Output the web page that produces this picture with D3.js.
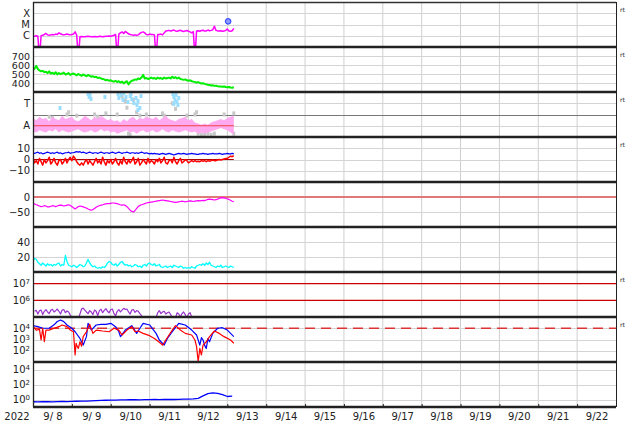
<!DOCTYPE html>
<html><head><meta charset="utf-8">
<script src="https://cdn.jsdelivr.net/npm/d3@7"></script>
<style>
body{margin:0;background:#fff}
svg{display:block}
text{font-family:"DejaVu Sans",sans-serif;fill:#222}
</style>
</head><body>
<svg id="c" width="634" height="424"></svg>
<script>
// ---------------- DATA ----------------
const startDate = Date.UTC(2022, 8, 8);   // 2022-09-08 00:00 UT
const endDate = Date.UTC(2022, 8, 23);
const yearLabel = "2022";
const dayLabels = ["9/ 8","9/ 9","9/10","9/11","9/12","9/13","9/14","9/15","9/16","9/17","9/18","9/19","9/20","9/21","9/22"];

// Panel 1: X-ray flux, hourly from hour 0, units 1e-6 W/m2
const xrayFlux = [0.9,0.9,1.0,0.9,0.01,1.0,1.1,1.3,1.6,1.2,1.1,
  1.2,1.3,1.2,1.4,1.3,1.8,1.5,1.3,1.2,1.3,1.4,1.3,1.2,1.3,
  1.4,2.2,1.1,0.01,
  0.8,0.85,0.8,0.8,0.85,0.9,0.85,0.8,0.8,0.85,0.8,0.8,0.9,0.85,0.8,0.85,0.9,0.9,0.95,0.9,1.0,1.1,1.3,
  0.01,
  1.4,1.8,2.2,1.6,2.4,1.9,1.5,1.3,1.2,1.1,1.2,
  1.1,1.2,1.6,2.0,2.2,1.8,1.3,1.2,1.4,1.3,1.3,1.2,
  0.01,
  1.3,1.3,1.4,1.2,1.8,2.6,
  2.8,3.0,2.6,2.9,3.2,2.7,2.5,2.8,3.1,2.6,2.4,2.7,2.9,2.5,2.2,1.8,2.3,
  0.01,
  2.6,2.8,2.5,2.9,3.1,2.6,2.7,3.2,2.8,3.0,3.4,7.0,3.0,2.7,2.6,2.8,2.5,2.6,3.0,4.0,2.7,2.5,2.8,4.5];
const flareHours = [120.5];
const flareFlux = [19];
const xrayLabels = ["C","M","X"];

// Panel 2: solar wind speed (km/s), hourly
const windSpeed = [545,560,590,555,540,530,535,520,525,510,530,
  505,515,500,520,495,510,500,505,515,495,500,510,490,
  500,505,495,485,500,490,480,495,485,475,490,480,470,
  475,465,470,455,460,450,445,440,430,435,425,430,420,
  415,425,410,420,405,415,395,410,420,385,410,425,430,
  440,435,450,445,460,490,450,455,445,450,460,450,455,
  445,460,450,455,445,460,450,455,460,450,470,455,465,
  450,460,445,440,435,440,430,425,430,420,415,410,405,
  410,400,395,398,390,385,380,378,372,375,368,370,365,
  362,360,358,362,355,352,355,350,348,352];
const speedTicks = [400,500,600,700];

// Panel 3: T / A levels (T = 3, A = 1)
const taLabels = ["A","T"];
const aHigh = [1.7,1.5,1.8,1.6,1.7,1.4,1.8,1.6,1.5,1.9,1.6,1.7,
  1.8,1.5,1.4,1.6,1.9,1.7,1.5,1.8,1.6,1.9,1.7,1.5,
  1.6,1.4,1.5,1.3,1.6,1.4,1.7,1.8,1.5,1.7,1.6,1.8,
  1.7,1.6,1.8,1.5,1.7,1.9,1.6,1.5,1.4,1.6,1.7,1.8,
  1.5,1.6,1.3,1.2,1.1,1.2,1.1,1.3,1.4,1.5,1.6,1.5,
  1.7,1.8,1.9];
const aLow = [0.5,0.4,0.6,0.5,0.4,0.6,0.5,0.7,0.4,0.6,0.5,0.4,
  0.5,0.6,0.7,0.5,0.4,0.5,0.6,0.4,0.5,0.7,0.5,0.6,
  0.4,0.5,0.3,0.4,0.5,0.6,0.4,0.5,0.3,0.5,0.6,0.4,
  0.5,0.6,0.4,0.5,0.7,0.5,0.4,0.6,0.5,0.4,0.5,0.6,
  0.5,0.4,0.5,0.3,0.4,0.3,0.4,0.5,0.6,0.7,0.8,0.7,
  0.6,0.4,0.2];
const tHours = [16.7,34,34.6,35.2,35.8,44.4,52.5,53,54.3,55.6,56,57.4,58.6,60,60.5,61,62.3,63.6,64.2,64.8,66,66.7,64.8,86.4,87,87.7,88.3,88.9,89.5,90,87];
const tLevels = [2.58,3.82,3.56,3.73,3.38,3.56,3.82,3.47,3.73,3.29,3.91,3.56,3.11,3.64,3.82,3.38,3.02,3.47,2.84,3.2,2.58,3.64,2.4,3.82,3.56,3.29,3.73,3.11,2.84,3.47,2.93];
const grayHours = [10,12,21,22,27,38,40,45,52,55,57,58,59,60,62,64,66,70,80,81,86,88,95,100,101,102,104,106,108,110,112,118,124,124];
const grayLevels = [1.8,1.7,2.0,2.2,1.9,2.0,1.8,2.1,2.0,3.6,3.2,2.6,0.3,0.2,3.3,2.2,1.9,2.0,2.1,1.9,3.0,2.5,1.9,2.0,2.2,0.3,0.2,0.25,0.3,0.2,0.3,2.0,0.3,2.1];

// Panel 4: IMF (nT), hourly
const imfBt = [6,5.5,6,6.5,5.5,6,5,5.5,6,6.5,6,5.5,6,5.5,6,6.5,5.5,6,5,5.5,6,6,6.5,5.5,6,
  6,6.5,7,6.5,7,6,6.5,6,5.5,6,6.5,6,5.5,6,6,5.5,6,6.5,6,5.5,6,6,5.5,6,6.5,
  6,5.5,6,6.5,6,5.5,6,6,6.5,6,5.5,6,6,5.5,6,5.5,6,6.5,6,5.5,6,5.5,5,5.5,5,
  5.5,5,5,4.5,5,5.5,5,4.5,5,5.5,5,4.5,4,4.5,5,5.5,5,5,5.5,5,4.5,5,5,5.5,5,
  5,4.5,4.5,5,5,5.5,5,5,4.5,5,5,5.5,5,5,5,5.5,5,4.5,5,5,5.5,5,5,5.5,5];
const imfBz = [2,-3,-1,-4,1,-2,-5,0,-3,-1,2,-4,-2,1,-3,-5,-1,0,-4,-2,1,-3,0,2,-1,
  3,1,-2,-4,-5,-3,-5,-2,0,-4,-1,-3,-5,-2,1,-3,-1,-4,2,-2,-5,-1,-3,0,-4,
  -2,1,-3,-5,-1,-4,2,-2,-4,0,-3,-1,2,-4,-2,1,-5,-3,0,-2,-4,1,-3,-1,-2,
  -4,0,-2,1,-3,-1,2,-3,-4,-1,0,-3,2,-2,-4,-1,1,-3,-2,0,-1,-3,-2,-1,-2,
  -1,-2,-1.5,-2,-1,-1.5,-1,-2,-1,-1.5,-1,-0.5,-1,-1,-0.5,0,-0.5,0,0.5,1,1,2,3,2.5,3.5];
const imfTicks = [-10,0,10];

// Panel 5: Dst (nT), hourly
const dst = [-21,-23,-26,-28,-30,-32,-31,-29,-30,-33,-33,-31,
  -29,-30,-32,-30,-28,-27,-28,-30,-29,-27,-26,-28,
  -32,-36,-40,-36,-32,-30,-31,-33,-35,-37,-40,-42,
  -44,-42,-38,-34,-31,-29,-27,-26,-24,-23,-22,-22,
  -21,-20,-20,-21,-22,-24,-26,-27,-26,-28,-32,-38,
  -44,-48,-50,-45,-38,-32,-28,-26,-24,-22,-20,-19,
  -18,-17,-16,-15,-14,-13,-12,-11,-10,-11,-12,-13,
  -14,-15,-16,-17,-18,-17,-16,-15,-14,-15,-16,-15,
  -14,-13,-14,-15,-14,-13,-12,-13,-12,-11,-12,-10,
  -8,-7,-8,-9,-10,-9,-7,-5,-3,-2,-3,-5,
  -6,-8,-11,-14,-16];
const dstTicks = [-50,0];

// Panel 6: density, hourly
const density = [15,18,17,13,11,9,12,10,8,11,9,10,
  8,10,9,11,12,8,10,9,22,14,9,8,
  7,9,8,6,8,10,9,7,8,12,17,12,
  9,7,8,6,5,6,5,7,6,8,12,14,
  13,10,9,11,8,10,13,14,11,9,10,8,
  9,7,8,10,9,7,8,6,9,10,8,11,
  12,10,9,11,8,9,10,7,6,7,8,6,
  7,8,6,9,8,7,6,8,7,5,6,5,
  6,5,7,6,5,8,9,10,9,11,9,12,
  10,13,9,8,7,6,8,7,9,6,7,8,
  7,6,8,7,6];
const densityTicks = [20,40];

// Panel 7: electron flux, hourly from hour 1, units 1e5
const electronFlux = [2.2,2.5,1.5,2.4,2.6,1.4,2.2,2.8,2.0,1.6,
  2.5,2.9,2.0,2.4,3.0,2.2,1.5,2.6,2.8,1.8,
  2.3,2.0,1.3,0.8,0.6,0.5,0.6,0.8,1.5,3.0,
  3.4,2.6,2.0,1.6,2.4,2.0,1.4,2.6,2.2,1.2,
  2.4,2.9,1.8,2.5,3.2,2.2,1.8,2.8,3.0,1.6,
  1.2,2.2,2.8,2.0,2.6,3.3,2.8,3.0,2.0,1.5,
  2.6,2.8,1.9,2.4,2.2,1.6,1.2,0.8,0.6,0.5,
  0.5,0.5,0.5,0.5,0.6,0.9,1.8,2.4,1.6,2.0,
  2.2,1.5,1.8,2.0,1.4,1.0,0.7,0.9,1.8,1.5,
  1.0,1.6,2.0,1.4,0.9,1.5,1.8,1.0,0.7,0.5,
  0.5,0.5,0.5,0.5,0.5,0.5,0.5,0.5,0.5,0.5,
  0.5,0.5,0.5,0.5,0.5,0.5,0.5,0.5,0.5,0.5,0.5,0.5,0.5,0.5];
const electronRefs = [1e6, 1e7];

// Panel 8: two fluxes, irregular hours
const blueHours = [0,3,6,10,13,15,17,19,21,24,26,29,31,33,34,36,39,42,45,48,51,53,54,57,61,64,66,68,72,76,78,81,83,86,90,94,98,101,103,104,105,106,107,108,109,111,114,117,120,124];
const blueFlux = [17000,14000,10000,10000,20000,40000,54000,39000,19500,10000,4900,1250,320,1800,27500,6900,19500,22500,22500,27500,13800,4900,1800,6900,17000,3500,10000,27500,19500,3500,900,320,1250,4900,27500,19500,6900,2500,320,1500,900,300,160,1200,630,3500,10000,11200,6900,1800];
const redHours = [0,2,4,5,6,7,8,10,13,16,18,21,23,25,26,26.6,27,28,29,30,31,33,35,37,39,43,47,50,53,55,58,61,63,65,68,72,75,78,80,82,84,86,88,91,94,98,100,101,102,103,104,105,107,109,112,115,118,122,124];
const redFlux = [13800,6900,8000,900,10000,630,6900,6900,10000,13800,19500,13800,6900,4900,42,460,300,160,630,250,1800,4900,22500,3500,6900,5700,4900,10000,6900,2500,6900,13800,4900,5700,3500,2200,1250,560,320,900,2500,6900,17000,6900,3500,2500,900,230,11,160,42,320,630,1800,5700,3500,1800,900,460];
const fluxThreshold = 1e4;
const fluxTicks = [1e2,1e3,1e4];

// Panel 9: flux every 3 hours from hour 0
const lowFlux = [0.50,0.48,0.52,0.50,0.49,0.53,0.55,0.52,0.56,0.58,
  0.60,0.62,0.65,0.70,0.75,0.80,0.85,0.82,0.88,0.90,
  0.92,0.95,0.90,0.94,0.98,1.0,0.95,1.0,1.05,1.0,
  1.05,1.1,1.1,1.2,1.4,3.0,6.0,7.5,6.5,4.5,2.5,2.8];
const lowFluxTicks = [1e0,1e2,1e4];

const rtPanels = [0,1,2,3,6,7];

// ---------------- LAYOUT ----------------
const svg = d3.select("#c");
const L = 33, R = 616, TOP = 2, PH = 45;
const pTop = i => TOP + i * PH;
const pBot = i => TOP + (i + 1) * PH;
const hd = h => new Date(startDate + h * 3600000);

const x = d3.scaleUtc().domain([new Date(startDate), new Date(endDate)]).range([L, R]);

const ys = [
  d3.scaleLog().domain([1e-7, 1e-3]).range([pBot(0), pTop(0)]),
  d3.scaleLinear().domain([300, 800]).range([pBot(1), pTop(1)]),
  d3.scaleLinear().domain([0, 4]).range([pBot(2), pTop(2)]),
  d3.scaleLinear().domain([-20, 20]).range([pBot(3), pTop(3)]),
  d3.scaleLinear().domain([-100, 50]).range([pBot(4), pTop(4)]),
  d3.scaleLinear().domain([0, 60]).range([pBot(5), pTop(5)]),
  d3.scaleLog().domain([1e5, 5e7]).range([pBot(6), pTop(6)]),
  d3.scaleLog().domain([10, 1e5]).range([pBot(7), pTop(7)]),
  d3.scaleLog().domain([0.1, 1e5]).range([pBot(8), pTop(8)])
];

svg.append("rect").attr("width", 634).attr("height", 424).attr("fill", "#fff");

const defs = svg.append("defs");
ys.forEach((s, i) => {
  defs.append("clipPath").attr("id", "clip" + i)
    .append("rect").attr("x", L).attr("y", pTop(i)).attr("width", R - L).attr("height", PH);
});

// vertical day gridlines
const dayBounds = d3.range(1, 15).map(d => new Date(startDate + d * 86400000));
svg.append("g").selectAll("line").data(dayBounds).join("line")
  .attr("x1", d => x(d)).attr("x2", d => x(d))
  .attr("y1", TOP).attr("y2", pBot(8))
  .attr("stroke", "#cfcfcf").attr("stroke-width", 1);

// horizontal gridlines
function hgrid(i, vals, color = "#d4d4d4") {
  svg.append("g").selectAll("line").data(vals).join("line")
    .attr("x1", L).attr("x2", R)
    .attr("y1", d => Math.round(ys[i](d)) + 0.5).attr("y2", d => Math.round(ys[i](d)) + 0.5)
    .attr("stroke", color).attr("stroke-width", 1);
}
hgrid(0, [1e-6, 1e-5, 1e-4]);
hgrid(1, speedTicks);
hgrid(2, [3, 1]);
hgrid(2, [2], "#777");
hgrid(3, imfTicks);
hgrid(4, [-50]);
hgrid(5, densityTicks);
hgrid(7, fluxTicks);
hgrid(8, lowFluxTicks);

// helpers
const hourly = (arr, start = 0, step = 1) => arr.map((v, i) => ({ t: hd(start + i * step), v }));
const paired = (hs, vs) => hs.map((h, i) => ({ t: hd(h), v: vs[i] }));
function drawLine(i, data, color, width) {
  const line = d3.line().x(d => x(d.t)).y(d => ys[i](d.v));
  svg.append("path").datum(data)
    .attr("clip-path", `url(#clip${i})`)
    .attr("d", line).attr("fill", "none")
    .attr("stroke", color).attr("stroke-width", width)
    .attr("stroke-linejoin", "round");
}

// Panel 1
drawLine(0, hourly(xrayFlux.map(v => v * 1e-6)), "#ff00ff", 1.5);
const flares = paired(flareHours, flareFlux.map(v => v * 1e-6));
svg.append("g").selectAll("circle").data(flares).join("circle")
  .attr("cx", d => x(d.t)).attr("cy", d => ys[0](d.v)).attr("r", 2.8)
  .attr("fill", "#8899ff").attr("stroke", "#2233ff").attr("stroke-width", 1);

// Panel 2
drawLine(1, hourly(windSpeed), "#00ee00", 2);

// Panel 3
const g3 = svg.append("g").attr("clip-path", "url(#clip2)");
g3.selectAll("rect.gray").data(paired(grayHours, grayLevels)).join("rect")
  .attr("x", d => x(d.t) - 1.5).attr("y", d => ys[2](d.v) - 2).attr("width", 3).attr("height", 4)
  .attr("fill", "#c8c8c8");
const aBand = aHigh.map((v, i) => ({ t: hd(i * 2), hi: v, lo: aLow[i] }));
g3.append("path").datum(aBand)
  .attr("d", d3.area().x(d => x(d.t)).y0(d => ys[2](d.lo)).y1(d => ys[2](d.hi)))
  .attr("fill", "#ffaaf0");
g3.selectAll("rect.tb").data(paired(tHours, tLevels)).join("rect")
  .attr("x", d => x(d.t) - 1.5).attr("y", d => ys[2](d.v) - 2).attr("width", 3).attr("height", 4)
  .attr("fill", "#99ddff");
g3.append("line")
  .attr("x1", x(hd(0))).attr("x2", x(hd(124)))
  .attr("y1", ys[2](1)).attr("y2", ys[2](1))
  .attr("stroke", "#ee4444").attr("stroke-width", 1.2);

// Panel 4
svg.append("line").attr("x1", x(hd(0))).attr("x2", x(hd(124)))
  .attr("y1", ys[3](0)).attr("y2", ys[3](0)).attr("stroke", "#aa0000").attr("stroke-width", 1.2);
drawLine(3, hourly(imfBt), "#0000ff", 1.2);
drawLine(3, hourly(imfBz), "#ff0000", 1.5);

// Panel 5
svg.append("line").attr("x1", L).attr("x2", R)
  .attr("y1", ys[4](0)).attr("y2", ys[4](0)).attr("stroke", "#e07878").attr("stroke-width", 2);
drawLine(4, hourly(dst), "#ff00ff", 1.2);

// Panel 6
drawLine(5, hourly(density), "#00ffff", 1.3);

// Panel 7
svg.append("g").selectAll("line").data(electronRefs).join("line")
  .attr("x1", L).attr("x2", R)
  .attr("y1", d => ys[6](d)).attr("y2", d => ys[6](d))
  .attr("stroke", "#cc0000").attr("stroke-width", 1.2);
drawLine(6, hourly(electronFlux.map(v => v * 1e5), 1), "#9933cc", 1.2);

// Panel 8
svg.append("line").attr("x1", L).attr("x2", R)
  .attr("y1", ys[7](fluxThreshold)).attr("y2", ys[7](fluxThreshold))
  .attr("stroke", "#dd3333").attr("stroke-width", 1.5).attr("stroke-dasharray", "10,6");
drawLine(7, paired(blueHours, blueFlux), "#0000ff", 1.2);
drawLine(7, paired(redHours, redFlux), "#ff0000", 1.2);

// Panel 9
drawLine(8, hourly(lowFlux, 0, 3), "#0000ff", 1.3);

// separators and frame
svg.append("g").selectAll("line").data(d3.range(9)).join("line")
  .attr("x1", L).attr("x2", R)
  .attr("y1", i => pBot(i)).attr("y2", i => pBot(i))
  .attr("stroke", "#222").attr("stroke-width", 2.5);
svg.append("line").attr("x1", L).attr("x2", R).attr("y1", TOP + 0.5).attr("y2", TOP + 0.5)
  .attr("stroke", "#333").attr("stroke-width", 1.5);
svg.append("line").attr("x1", L + 0.5).attr("x2", L + 0.5).attr("y1", TOP).attr("y2", pBot(8))
  .attr("stroke", "#222").attr("stroke-width", 1.3);
svg.append("line").attr("x1", R + 0.5).attr("x2", R + 0.5).attr("y1", TOP).attr("y2", pBot(8))
  .attr("stroke", "#222").attr("stroke-width", 1);

// y axes
function yAxis(i, vals, fmt, sup, fs = 10) {
  const g = svg.append("g").attr("transform", `translate(${L},0)`)
    .call(d3.axisLeft(ys[i]).tickValues(vals).tickFormat(fmt).tickSize(0).tickPadding(3));
  g.select(".domain").remove();
  g.selectAll("text").attr("font-size", fs).attr("font-family", "DejaVu Sans").attr("fill", "#222");
  if (sup) {
    g.selectAll(".tick text").each(function (d) {
      const t = d3.select(this).text(null);
      t.append("tspan").text("10");
      t.append("tspan").attr("dy", "-0.45em").attr("font-size", 7).text(Math.round(Math.log10(d)));
    });
  }
}
yAxis(0, [1e-6, 1e-5, 1e-4], (d, k) => xrayLabels[k]);
yAxis(1, speedTicks, d => d, false, 9.5);
yAxis(2, [1, 3], (d, k) => taLabels[k]);
yAxis(3, imfTicks, d => d < 0 ? "\u2212" + Math.abs(d) : d);
yAxis(4, dstTicks, d => d < 0 ? "\u2212" + Math.abs(d) : d);
yAxis(5, densityTicks, d => d);
yAxis(6, electronRefs, d => d, true);
yAxis(7, fluxTicks, d => d, true);
yAxis(8, lowFluxTicks, d => d, true);

// bottom axis
const dayNoons = dayLabels.map((s, i) => new Date(startDate + (i + 0.5) * 86400000));
const gx = svg.append("g").attr("transform", `translate(0,${pBot(8)})`)
  .call(d3.axisBottom(x).tickValues(dayNoons).tickFormat((d, i) => dayLabels[i]).tickSize(0).tickPadding(6));
gx.select(".domain").remove();
gx.selectAll("text").attr("font-size", 10).attr("font-family", "DejaVu Sans")
  .attr("fill", "#222").style("white-space", "pre").attr("xml:space", "preserve");
const gt = svg.append("g").attr("transform", `translate(0,${pBot(8)})`)
  .call(d3.axisBottom(x).tickValues(dayBounds).tickFormat("").tickSize(-3));
gt.select(".domain").remove();
gt.selectAll("line").attr("stroke", "#222");
svg.append("text").attr("x", 17).attr("y", 420).attr("text-anchor", "middle")
  .attr("font-size", 10).text(yearLabel);

// rt labels
svg.append("g").selectAll("text").data(rtPanels).join("text")
  .attr("x", 620).attr("y", i => pTop(i) + 10)
  .attr("font-size", 6).attr("fill", "#333").text("rt");
</script>
</body></html>
